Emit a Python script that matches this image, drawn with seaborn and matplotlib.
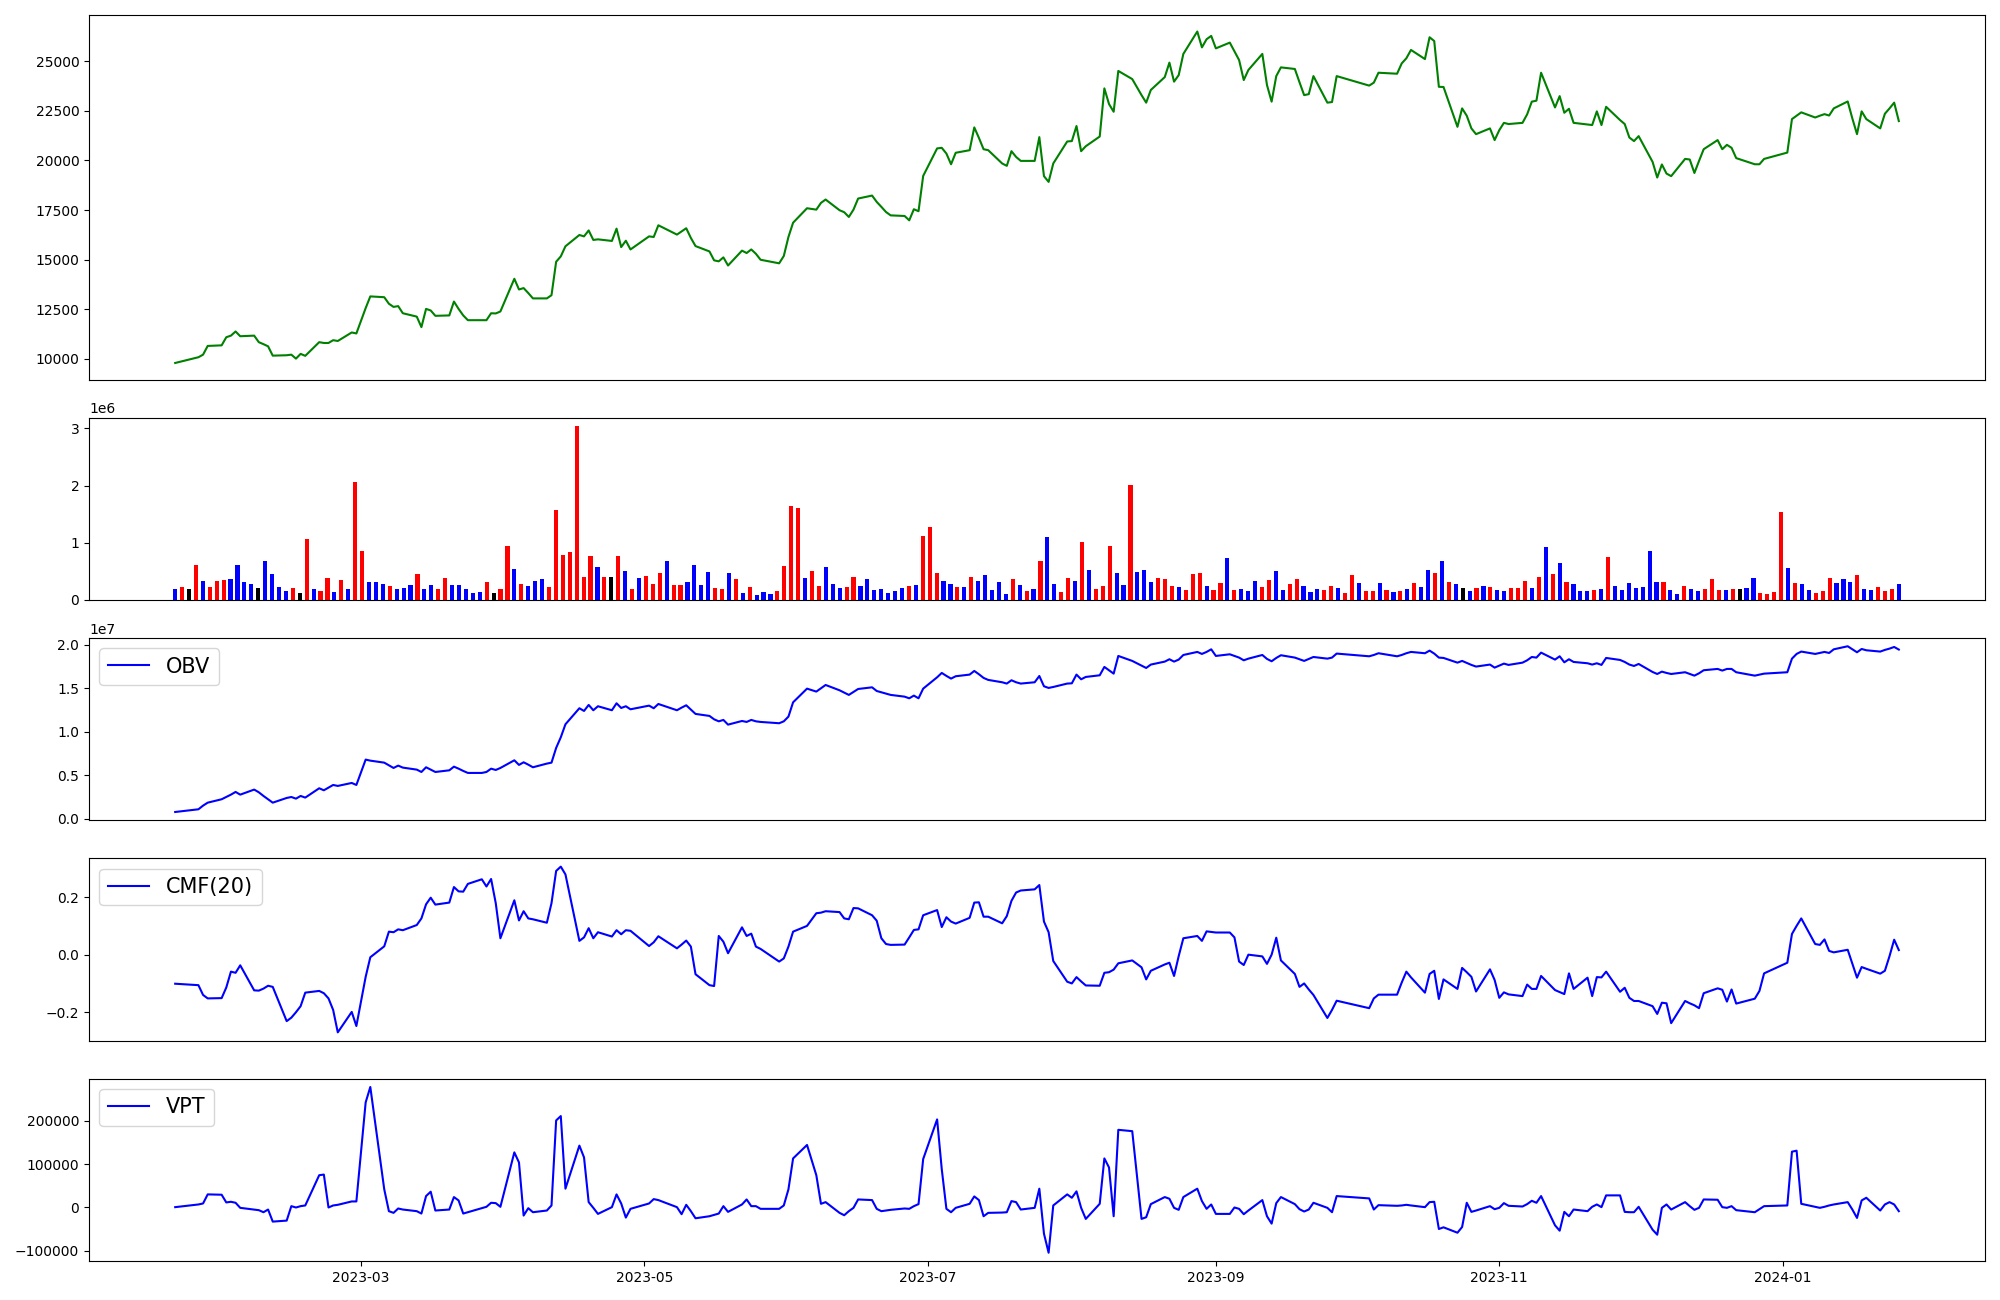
import numpy as np
import pandas as pd
import matplotlib
matplotlib.use("Agg")
import matplotlib.pyplot as plt
import matplotlib.dates as mdates
import seaborn as sns

# ---- trading calendar (KRX, closed days removed) ----
krx_holidays = ["2023-01-23", "2023-01-24", "2023-03-01", "2023-05-01", "2023-05-05",
                "2023-05-29", "2023-06-06", "2023-08-15", "2023-09-28", "2023-09-29",
                "2023-10-02", "2023-10-03", "2023-10-09", "2023-12-25", "2023-12-29",
                "2024-01-01"]
dates = pd.bdate_range("2023-01-20", "2024-01-26")
dates = dates[~dates.isin(pd.to_datetime(krx_holidays))]

# ---- close price ----
price = [
    9780, 10070, 10200, 10640, 10670, 11080, 11160, 11370, 11130, 11160,
    10830, 10730, 10620, 10150, 10170, 10200, 10000, 10240, 10140, 10830,
    10790, 10790, 10930, 10890, 11320, 11270, 12550, 13140, 13100, 12770,
    12610, 12650, 12290, 12120, 11590, 12510, 12430, 12160, 12180, 12880,
    12510, 12180, 11940, 11940, 11940, 12290, 12280, 12380, 14030, 13490,
    13560, 13310, 13040, 13040, 13200, 14890, 15160, 15670, 16240, 16170,
    16470, 15990, 16020, 15940, 16560, 15630, 15950, 15510, 16170, 16140,
    16730, 16260, 16420, 16580, 16090, 15680, 15410, 14960, 14910, 15110,
    14700, 15450, 15330, 15510, 15290, 14990, 14810, 15180, 16140, 16860,
    17590, 17520, 17860, 18030, 17490, 17390, 17150, 17520, 18080, 18230,
    17910, 17660, 17400, 17230, 17200, 16980, 17540, 17440, 19220, 20610,
    20640, 20350, 19810, 20390, 20520, 21670, 21140, 20570, 20520, 19850,
    19730, 20470, 20180, 19980, 19980, 21180, 19210, 18920, 19850, 20960,
    20980, 21740, 20470, 20720, 21210, 23640, 22850, 22460, 24520, 24110,
    23300, 22920, 23560, 24210, 24940, 23980, 24310, 25380, 26510, 25710,
    26120, 26290, 25660, 25950, 25510, 25070, 24060, 24570, 25380, 23810,
    22970, 24260, 24700, 24620, 23950, 23300, 23350, 24260, 22920, 22950,
    24260, 23780, 23930, 24430, 24380, 24900, 25160, 25580, 25120, 26220,
    26030, 23720, 23710, 21700, 22630, 22260, 21620, 21330, 21620, 21030,
    21530, 21900, 21840, 21900, 22330, 22970, 23020, 24430, 22680, 23250,
    22410, 22610, 21900, 21820, 21790, 22480, 21790, 22710, 22040, 21840,
    21160, 20980, 21230, 19930, 19140, 19800, 19340, 19210, 20080, 20050,
    19370, 19980, 20570, 21030, 20570, 20790, 20640, 20120, 19810, 19810,
    20080, 20400, 22090, 22260, 22430, 22170, 22260, 22340, 22270, 22630,
    22980, 22120, 21330, 22480, 22090, 21620, 22360, 22630, 22920, 21990]

# ---- volume (thousands of shares) and bar colour code: r=up, b=down, k=flat ----
volume_k = [
    198, 233, 198, 619, 339, 233, 339, 356, 374, 619,
    321, 286, 216, 689, 461, 233, 163, 216, 128, 1057,
    198, 163, 391, 146, 356, 198, 2055, 864, 321, 321,
    286, 251, 198, 216, 269, 461, 198, 269, 198, 391,
    269, 269, 198, 128, 146, 321, 128, 198, 934, 549,
    286, 251, 339, 374, 233, 1565, 794, 846, 3036, 409,
    776, 584, 409, 409, 776, 514, 198, 391, 426, 286,
    479, 689, 269, 269, 321, 619, 269, 496, 216, 198,
    479, 374, 128, 233, 93, 146, 111, 163, 601, 1635,
    1600, 391, 514, 251, 584, 286, 216, 233, 409, 251,
    374, 181, 198, 128, 163, 216, 251, 269, 1109, 1267,
    479, 339, 286, 233, 233, 409, 339, 444, 181, 321,
    111, 374, 269, 163, 198, 689, 1092, 286, 146, 391,
    339, 1004, 531, 198, 251, 934, 479, 269, 2002, 496,
    531, 321, 391, 374, 251, 233, 181, 461, 479, 251,
    181, 304, 741, 181, 198, 163, 339, 233, 356, 514,
    181, 286, 374, 251, 146, 198, 181, 251, 216, 128,
    444, 304, 163, 163, 304, 181, 146, 163, 198, 304,
    233, 531, 479, 689, 321, 286, 216, 163, 216, 251,
    233, 181, 163, 216, 216, 339, 216, 409, 917, 461,
    654, 321, 286, 163, 163, 181, 198, 759, 251, 181,
    304, 216, 233, 847, 321, 321, 181, 111, 251, 198,
    163, 198, 374, 181, 181, 198, 198, 216, 391, 128,
    111, 146, 1530, 566, 304, 286, 181, 128, 163, 391,
    304, 374, 321, 444, 198, 181, 233, 163, 198, 286]

direction = ("brkrbrrrbb" "bbkbbbbrkr" "brrbrbrrbb" "brbbbrbbrr" "bbbbbrkrrb"
             "rbbbrrrrrr" "rbrkrbrbrr" "rbrrbbbbrr" "brbrbbbrrr" "rbrrbbbrrb"
             "bbbbbbrbrr" "rbbrbrbbbb" "brbrbrbbrr" "brbrrrbbrb" "bbrrrbrrrb"
             "rrbrbbbrrb" "brrbbbrrbr" "rbrrbrbrbr" "bbrbrbkbrb" "rbbrrrbrbr"
             "brbbbrbrbb" "bbbbbrbbrb" "brrrbrkbbr" "rrrbrbbrrr" "bbbrbbrrrb")

# ---- OBV (millions) ----
obv_m = [
    0.80, 1.11, 1.53, 1.87, 2.26, 2.52, 2.79, 3.10, 2.79, 3.37,
    3.06, 2.64, 2.26, 1.87, 2.41, 2.52, 2.33, 2.64, 2.45, 3.52,
    3.29, 3.59, 3.90, 3.79, 4.13, 3.90, 6.81, 6.69, 6.46, 6.16,
    5.85, 6.12, 5.89, 5.66, 5.39, 5.93, 5.66, 5.39, 5.58, 6.00,
    5.77, 5.51, 5.28, 5.28, 5.39, 5.77, 5.62, 5.85, 6.73, 6.20,
    6.50, 6.23, 5.93, 6.35, 6.46, 8.15, 9.37, 10.86, 12.70, 12.39,
    13.08, 12.47, 12.93, 12.47, 13.27, 12.73, 12.93, 12.58, 13.00, 12.70,
    13.19, 12.47, 12.77, 13.04, 12.54, 12.05, 11.82, 11.43, 11.20, 11.36,
    10.82, 11.24, 11.13, 11.36, 11.20, 11.13, 10.98, 11.20, 11.74, 13.38,
    14.95, 14.61, 14.99, 15.37, 14.76, 14.49, 14.23, 14.57, 14.91, 15.10,
    14.68, 14.53, 14.38, 14.23, 14.03, 13.84, 14.15, 13.84, 14.95, 16.25,
    16.75, 16.41, 16.10, 16.37, 16.56, 16.98, 16.60, 16.18, 15.95, 15.68,
    15.53, 15.91, 15.68, 15.53, 15.68, 16.40, 15.22, 15.03, 15.14, 15.53,
    15.56, 16.56, 16.02, 16.29, 16.48, 17.44, 17.06, 16.67, 18.70, 18.13,
    17.59, 17.32, 17.71, 18.05, 18.32, 18.05, 18.28, 18.81, 19.16, 18.93,
    19.16, 19.46, 18.70, 18.89, 18.70, 18.51, 18.20, 18.39, 18.81, 18.36,
    18.09, 18.47, 18.78, 18.51, 18.32, 18.13, 18.36, 18.58, 18.39, 18.51,
    18.97, 18.66, 18.81, 19.01, 18.66, 18.81, 19.01, 19.16, 19.01, 19.31,
    18.97, 18.51, 18.47, 17.93, 18.13, 17.90, 17.67, 17.48, 17.71, 17.36,
    17.59, 17.82, 17.67, 17.93, 18.20, 18.58, 18.51, 19.08, 18.28, 18.66,
    17.97, 18.32, 18.01, 17.86, 17.71, 17.86, 17.67, 18.47, 18.24, 18.01,
    17.71, 17.55, 17.78, 16.86, 16.63, 16.90, 16.75, 16.63, 16.83, 16.63,
    16.44, 16.71, 17.06, 17.21, 17.02, 17.21, 17.21, 16.83, 16.44, 16.56,
    16.67, 16.83, 18.39, 18.93, 19.20, 18.93, 19.04, 19.16, 19.04, 19.46,
    19.81, 19.46, 19.12, 19.50, 19.35, 19.20, 19.39, 19.54, 19.73, 19.43]

# ---- CMF(20) ----
cmf = [
    -0.101, -0.106, -0.140, -0.152, -0.151, -0.114, -0.059, -0.063, -0.037, -0.124,
    -0.125, -0.118, -0.108, -0.112, -0.231, -0.219, -0.200, -0.179, -0.132, -0.126,
    -0.134, -0.152, -0.192, -0.270, -0.199, -0.248, -0.077, -0.009, 0.029, 0.080,
    0.078, 0.088, 0.085, 0.103, 0.126, 0.175, 0.198, 0.174, 0.181, 0.235,
    0.220, 0.219, 0.246, 0.262, 0.237, 0.263, 0.179, 0.057, 0.189, 0.119,
    0.151, 0.126, 0.123, 0.111, 0.179, 0.291, 0.306, 0.279, 0.048, 0.060,
    0.092, 0.057, 0.078, 0.063, 0.085, 0.071, 0.085, 0.083, 0.030, 0.043,
    0.064, 0.022, 0.035, 0.049, 0.028, -0.068, -0.106, -0.109, 0.065, 0.045,
    0.005, 0.095, 0.065, 0.073, 0.028, 0.020, -0.024, -0.013, 0.028, 0.080,
    0.100, 0.144, 0.146, 0.151, 0.148, 0.126, 0.123, 0.162, 0.161, 0.137,
    0.118, 0.057, 0.037, 0.034, 0.035, 0.060, 0.086, 0.088, 0.137, 0.155,
    0.096, 0.130, 0.115, 0.108, 0.128, 0.181, 0.182, 0.132, 0.132, 0.109,
    0.134, 0.187, 0.216, 0.223, 0.227, 0.242, 0.115, 0.078, -0.022, -0.094,
    -0.100, -0.078, -0.093, -0.107, -0.108, -0.063, -0.061, -0.052, -0.030, -0.020,
    -0.044, -0.086, -0.056, -0.034, -0.028, -0.074, -0.005, 0.057, 0.065, 0.048,
    0.081, 0.079, 0.077, 0.077, 0.060, -0.024, -0.036, 0.000, -0.006, -0.032,
    0.000, 0.059, -0.020, -0.067, -0.112, -0.100, -0.121, -0.140, -0.220, -0.192,
    -0.160, -0.186, -0.152, -0.139, -0.139, -0.097, -0.059, -0.079, -0.132, -0.067,
    -0.056, -0.154, -0.086, -0.119, -0.046, -0.061, -0.077, -0.128, -0.051, -0.088,
    -0.150, -0.131, -0.138, -0.144, -0.104, -0.119, -0.119, -0.074, -0.123, -0.130,
    -0.137, -0.065, -0.119, -0.080, -0.144, -0.078, -0.079, -0.059, -0.129, -0.115,
    -0.150, -0.161, -0.161, -0.179, -0.206, -0.167, -0.169, -0.238, -0.161, -0.169,
    -0.176, -0.186, -0.134, -0.117, -0.122, -0.163, -0.121, -0.170, -0.153, -0.126,
    -0.065, -0.028, 0.072, 0.100, 0.126, 0.037, 0.034, 0.053, 0.013, 0.008,
    0.017, -0.032, -0.080, -0.043, -0.049, -0.066, -0.056, -0.005, 0.052, 0.016]

# ---- VPT (thousands) ----
vpt_k = [
    0.8, 7.0, 9.3, 30.3, 29.5, 11.7, 13.2, 10.9, -0.8, -4.7,
    -6.2, -10.9, -4.7, -32.6, -30.3, 3.1, 0.0, 3.1, 4.7, 74.6,
    76.1, 0.0, 4.7, 6.2, 14.0, 14.0, 243.0, 278.5, 42.0, -8.5,
    -12.4, -2.3, -4.7, -8.5, -14.0, 26.4, 36.5, -7.0, -4.7, 24.1,
    16.3, -14.0, -10.9, -1.6, 1.6, 10.9, 10.1, 1.6, 127.4, 104.1,
    -18.6, -1.6, -10.9, -7.0, 4.7, 201.2, 211.3, 43.5, 143.0, 115.8,
    12.4, -0.8, -14.8, 0.8, 30.3, 9.3, -23.3, -3.1, 9.3, 19.4,
    17.1, 0.8, -15.5, 6.2, -8.5, -24.9, -20.2, -17.1, -14.0, 3.1,
    -10.1, 7.0, 18.6, 3.1, 3.1, -3.1, -3.1, 4.7, 42.0, 113.4,
    144.5, 74.6, 8.5, 12.4, -12.4, -17.9, -8.5, -0.8, 18.6, 17.1,
    -3.1, -8.5, -7.0, -5.4, -2.3, -3.1, 3.1, 7.8, 111.9, 203.6,
    88.6, -3.1, -10.9, -0.8, 8.5, 25.6, 17.1, -20.2, -12.4, -11.7,
    -10.9, 14.8, 12.4, -4.7, -0.8, 43.5, -60.6, -104.5, 4.7, 30.3,
    22.5, 37.3, -0.8, -26.4, 8.5, 113.4, 92.5, -20.2, 179.5, 176.4,
    -26.4, -22.5, 7.8, 24.1, 20.2, -0.8, -5.4, 24.1, 43.5, 14.8,
    -3.1, 7.0, -14.8, -14.8, 0.0, -3.1, -15.5, -7.0, 17.1, -20.2,
    -37.3, 10.1, 24.1, 7.8, -3.9, -9.3, -4.7, 10.9, -0.8, -10.9,
    26.4, 21.0, -4.7, 5.4, 3.9, 4.7, 6.2, 4.7, 0.8, 12.4,
    13.2, -49.7, -45.8, -58.3, -45.1, 10.9, -10.1, -7.0, 3.1, -3.9,
    -0.8, 10.1, 3.9, 2.3, 7.8, 15.5, 10.9, 26.4, -41.2, -53.6,
    -10.1, -20.2, -4.7, -8.5, 1.6, 7.0, 0.8, 28.0, 28.0, -10.1,
    -10.9, -10.9, 1.6, -51.3, -62.9, -0.8, 7.0, -4.7, 12.4, 3.1,
    -5.4, -0.8, 18.6, 17.9, 0.8, -0.8, 3.1, -6.2, -10.9, -3.9,
    3.1, 4.7, 129.0, 131.3, 8.5, 1.6, -0.8, 1.6, 4.7, 7.0,
    12.4, -4.7, -24.1, 16.3, 22.5, -7.0, 7.0, 12.4, 7.0, -8.5]

# ---- figure ----
fig = plt.figure(figsize=(20, 13), dpi=100)
gs = fig.add_gridspec(5, 1, height_ratios=[2, 1, 1, 1, 1], left=0.0445, right=0.9925,
                      top=0.9885, bottom=0.030, hspace=0.174)
ax0 = fig.add_subplot(gs[0])
ax1 = fig.add_subplot(gs[1])
ax2 = fig.add_subplot(gs[2])
ax3 = fig.add_subplot(gs[3])
ax4 = fig.add_subplot(gs[4])

x = np.array(dates)

sns.lineplot(x=x, y=np.array(price, dtype=float), color="green", linewidth=1.5, ax=ax0)

vol_df = pd.DataFrame({"idx": np.arange(len(volume_k)),
                       "vol": np.array(volume_k, dtype=float) * 1000,
                       "dir": list(direction)})
sns.barplot(data=vol_df, x="idx", y="vol", hue="dir",
            palette={"r": "red", "b": "blue", "k": "black"},
            dodge=False, width=0.6, errorbar=None, saturation=1,
            legend=False, ax=ax1)
n = len(volume_k)
ax1.set_xlim(-0.05 * (n - 1), (n - 1) * 1.05)

sns.lineplot(x=x, y=np.array(obv_m) * 1e6, color="blue", linewidth=1.5, label="OBV", ax=ax2)
sns.lineplot(x=x, y=np.array(cmf), color="blue", linewidth=1.5, label="CMF(20)", ax=ax3)
sns.lineplot(x=x, y=np.array(vpt_k) * 1000, color="blue", linewidth=1.5, label="VPT", ax=ax4)

for ax in (ax2, ax3, ax4):
    ax.legend(loc="upper left", fontsize=15)

for ax in (ax0, ax1, ax2, ax3):
    ax.tick_params(axis="x", which="both", bottom=False, labelbottom=False)

ax4.xaxis.set_major_locator(mdates.MonthLocator(bymonth=[1, 3, 5, 7, 9, 11]))
ax4.xaxis.set_major_formatter(mdates.DateFormatter("%Y-%m"))

for ax in (ax0, ax1, ax2, ax3, ax4):
    ax.set_xlabel("")
    ax.set_ylabel("")

fig.savefig("out.png", dpi=100)
